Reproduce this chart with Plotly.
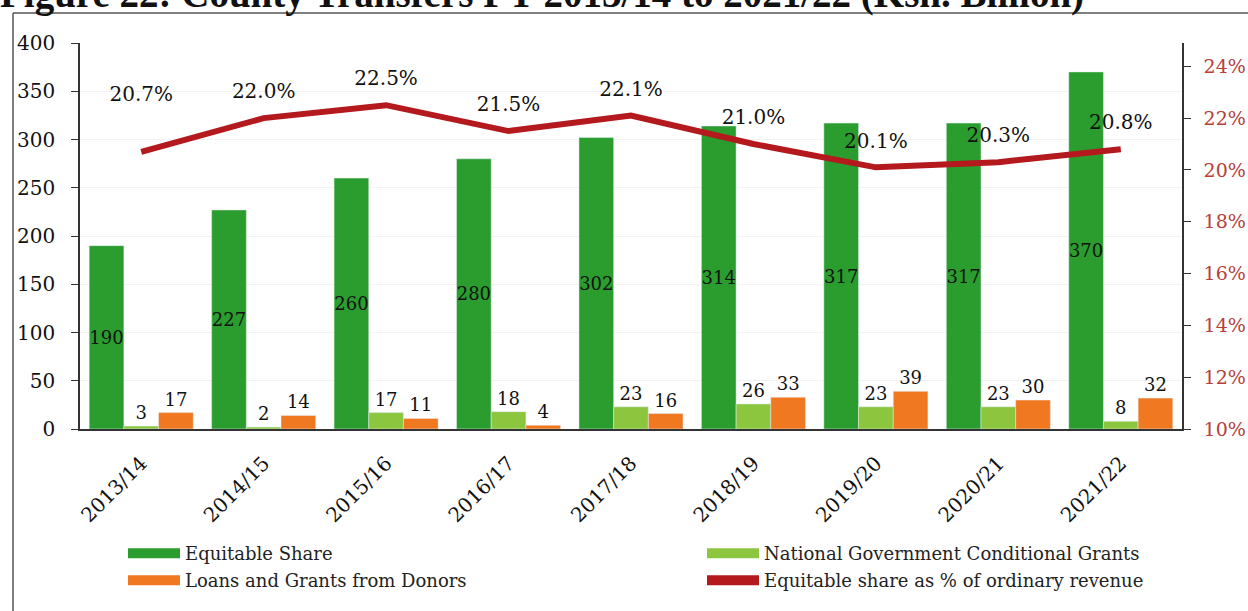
import plotly.graph_objects as go

years = ["2013/14", "2014/15", "2015/16", "2016/17", "2017/18",
         "2018/19", "2019/20", "2020/21", "2021/22"]
equitable_share = [190, 227, 260, 280, 302, 314, 317, 317, 370]
conditional_grants = [3, 2, 17, 18, 23, 26, 23, 23, 8]
donor_loans_grants = [17, 14, 11, 4, 16, 33, 39, 30, 32]
share_pct = [20.7, 22.0, 22.5, 21.5, 22.1, 21.0, 20.1, 20.3, 20.8]
left_ticks = [0, 50, 100, 150, 200, 250, 300, 350, 400]
right_ticks = [10, 12, 14, 16, 18, 20, 22, 24]
title_text = "Figure 22: County Transfers FY 2013/14 to 2021/22 (Ksh. Billion)"

GREEN = "#2a9d2e"
LIGHT = "#8cc63f"
ORANGE = "#f07820"
RED = "#b3191d"
RED_TXT = "#b5403a"
SERIF = "DejaVu Serif"

W, H = 1248, 611
PL, PR, PT, PB = 80, 1182, 43, 429  # plot area in pixels

fig = go.Figure()

fig.add_trace(go.Bar(
    x=years, y=equitable_share, name="Equitable Share", marker_color=GREEN,
    text=[str(v) for v in equitable_share], textposition="inside",
    insidetextanchor="middle", textangle=0, constraintext="none",
    textfont=dict(family=SERIF, size=18, color="#111"), showlegend=False))
fig.add_trace(go.Bar(
    x=years, y=conditional_grants, name="National Government Conditional Grants",
    marker_color=LIGHT, text=[str(v) for v in conditional_grants],
    textposition="outside", textangle=0, cliponaxis=False, constraintext="none",
    textfont=dict(family=SERIF, size=18, color="#111"), showlegend=False))
fig.add_trace(go.Bar(
    x=years, y=donor_loans_grants, name="Loans and Grants from Donors",
    marker_color=ORANGE, text=[str(v) for v in donor_loans_grants],
    textposition="outside", textangle=0, cliponaxis=False, constraintext="none",
    textfont=dict(family=SERIF, size=18, color="#111"), showlegend=False))

msizes = [72] + [22] * (len(share_pct) - 1)
fig.add_trace(go.Scatter(
    x=years, y=share_pct, yaxis="y2", mode="lines+markers+text",
    name="Equitable share as % of ordinary revenue",
    line=dict(color=RED, width=6),
    marker=dict(size=msizes, color=RED, opacity=0, line=dict(width=0)),
    text=[f"{v:.1f}%" for v in share_pct], textposition="top center",
    textfont=dict(family=SERIF, size=20, color="#111"),
    cliponaxis=False, showlegend=False))


def px_x(x):
    return (x - PL) / (PR - PL)


def px_y(y):
    return (PB - y) / (PB - PT)


# legend entries: one legend per cell of the 2x2 grid
legend_items = [("Equitable Share", GREEN, "legend", 123, 535),
                ("National Government Conditional Grants", LIGHT, "legend2", 702, 535),
                ("Loans and Grants from Donors", ORANGE, "legend3", 123, 562),
                ("Equitable share as % of ordinary revenue", RED, "legend4", 702, 562)]
legend_layouts = {}
for nm, col, lg, lx, ly in legend_items:
    fig.add_trace(go.Scatter(x=[None], y=[None], mode="lines", name=nm,
                             line=dict(color=col, width=10), showlegend=True,
                             legend=lg))
    legend_layouts[lg] = dict(
        orientation="v", xref="paper", yref="paper",
        x=px_x(lx), y=px_y(ly), xanchor="left", yanchor="top", itemwidth=52,
        font=dict(family=SERIF, size=18, color="#222"),
        bgcolor="rgba(0,0,0,0)")

fig.update_layout(
    width=W, height=H,
    margin=dict(l=PL, r=W - PR, t=PT, b=H - PB, autoexpand=False),
    paper_bgcolor="white", plot_bgcolor="white",
    barmode="group", bargap=0.15, bargroupgap=0,
    uniformtext=dict(minsize=18, mode="show"),
    annotations=[dict(text="<b>" + title_text + "</b>", xref="paper", yref="paper",
                      x=px_x(-2), y=px_y(-6), xanchor="left", yanchor="middle",
                      showarrow=False,
                      font=dict(family="Liberation Serif", size=39, color="#111"))],
    xaxis=dict(tickangle=-45, showline=True, linecolor="#333", linewidth=1.5,
               range=[-0.5, len(years) - 0.5],
               ticks="", tickfont=dict(family=SERIF, size=20, color="#111"),
               ticklabelstandoff=13),
    yaxis=dict(range=[0, 400], tickvals=left_ticks, showline=True,
               linecolor="#333", linewidth=1.5, ticks="outside", ticklen=7,
               tickcolor="#333", showgrid=True, gridcolor="#f2f2f2",
               zeroline=False,
               tickfont=dict(family=SERIF, size=20, color="#111"),
               ticklabelstandoff=12),
    yaxis2=dict(range=[10, 24.9], tickvals=right_ticks,
                ticktext=[f"{v}%" for v in right_ticks],
                overlaying="y", side="right", showline=True, linecolor="#333",
                linewidth=1.5, ticks="outside", ticklen=7, tickcolor="#333",
                showgrid=False, zeroline=False,
                tickfont=dict(family=SERIF, size=19, color=RED_TXT),
                ticklabelstandoff=9),
    shapes=[
        dict(type="line", xref="paper", yref="paper", x0=px_x(13), x1=px_x(1260),
             y0=px_y(13), y1=px_y(13), line=dict(color="#555", width=1.5)),
        dict(type="line", xref="paper", yref="paper", x0=px_x(13), x1=px_x(13),
             y0=px_y(13), y1=px_y(620), line=dict(color="#555", width=1.5)),
    ],
    **legend_layouts,
)

fig.write_html("out.html", config={"displayModeBar": False},
               post_script="document.body.style.margin='0';")
